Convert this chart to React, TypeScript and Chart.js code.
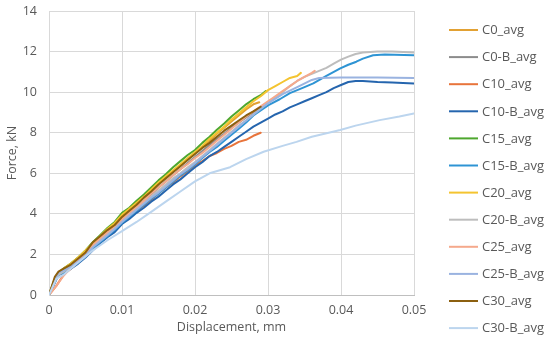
import React, { useEffect, useRef } from "react";
import { Chart, registerables } from "chart.js";

Chart.register(...registerables);

// ---- Data (displacement mm, force kN) ----
const C0_avg: number[][] = [
  [0, 0], [0.0008, 0.8], [0.0013, 1.1], [0.002, 1.3], [0.003, 1.55], [0.004, 1.85], [0.005, 2.15], [0.006, 2.55],
  [0.007, 2.85], [0.008, 3.2], [0.009, 3.5], [0.01, 3.9], [0.011, 4.2], [0.012, 4.5], [0.013, 4.8], [0.014, 5.15],
  [0.015, 5.5], [0.016, 5.8], [0.017, 6.1], [0.018, 6.4], [0.019, 6.7], [0.02, 7.0], [0.021, 7.3], [0.022, 7.6],
  [0.023, 7.95], [0.024, 8.25], [0.025, 8.55], [0.026, 8.85], [0.027, 9.15], [0.028, 9.4], [0.0288, 9.5],
];
const C0_B_avg: number[][] = [
  [0, 0], [0.0008, 0.7], [0.0013, 1.05], [0.002, 1.25], [0.003, 1.5], [0.004, 1.8], [0.005, 2.1], [0.006, 2.45],
  [0.007, 2.8], [0.008, 3.1], [0.009, 3.4], [0.01, 3.75], [0.011, 4.05], [0.012, 4.35], [0.013, 4.65], [0.014, 4.95],
  [0.015, 5.3], [0.016, 5.6], [0.017, 5.9], [0.018, 6.2], [0.019, 6.5], [0.02, 6.8], [0.021, 7.1], [0.022, 7.4],
  [0.023, 7.7], [0.024, 7.95], [0.025, 8.25], [0.026, 8.5], [0.027, 8.75], [0.028, 9.0], [0.0295, 9.3],
];
const C10_avg: number[][] = [
  [0, 0], [0.001, 0.45], [0.002, 1.0], [0.003, 1.3], [0.004, 1.6], [0.005, 1.9], [0.006, 2.3], [0.007, 2.6],
  [0.008, 2.9], [0.009, 3.2], [0.01, 3.55], [0.011, 3.85], [0.012, 4.15], [0.013, 4.4], [0.014, 4.7], [0.015, 5.0],
  [0.016, 5.3], [0.017, 5.55], [0.018, 5.85], [0.019, 6.1], [0.02, 6.4], [0.021, 6.6], [0.022, 6.85], [0.023, 7.0],
  [0.024, 7.2], [0.025, 7.35], [0.026, 7.55], [0.027, 7.65], [0.028, 7.85], [0.029, 8.0],
];
const C10_B_avg: number[][] = [
  [0, 0], [0.0008, 0.6], [0.0013, 1.0], [0.002, 1.05], [0.003, 1.3], [0.004, 1.55], [0.005, 1.85], [0.006, 2.2],
  [0.007, 2.55], [0.008, 2.85], [0.009, 3.1], [0.01, 3.5], [0.011, 3.75], [0.012, 4.05], [0.013, 4.3], [0.014, 4.6],
  [0.015, 4.85], [0.016, 5.15], [0.017, 5.45], [0.018, 5.7], [0.019, 6.0], [0.02, 6.3], [0.021, 6.55], [0.022, 6.85],
  [0.023, 7.05], [0.024, 7.3], [0.025, 7.55], [0.026, 7.8], [0.027, 8.05], [0.028, 8.3], [0.029, 8.5], [0.03, 8.7],
  [0.031, 8.9], [0.032, 9.05], [0.033, 9.25], [0.034, 9.4], [0.035, 9.55], [0.036, 9.7], [0.037, 9.85], [0.038, 10.0],
  [0.039, 10.2], [0.04, 10.35], [0.041, 10.5], [0.042, 10.55], [0.043, 10.55], [0.045, 10.5], [0.047, 10.48], [0.05, 10.43],
];
const C15_avg: number[][] = [
  [0, 0], [0.0007, 0.7], [0.0012, 1.05], [0.002, 1.3], [0.003, 1.55], [0.004, 1.85], [0.005, 2.2], [0.006, 2.6],
  [0.007, 2.95], [0.008, 3.3], [0.009, 3.6], [0.01, 4.05], [0.011, 4.3], [0.012, 4.65], [0.013, 4.95], [0.014, 5.3],
  [0.015, 5.65], [0.016, 5.95], [0.017, 6.3], [0.018, 6.6], [0.019, 6.9], [0.02, 7.15], [0.021, 7.5], [0.022, 7.8],
  [0.023, 8.15], [0.024, 8.45], [0.025, 8.8], [0.026, 9.1], [0.027, 9.4], [0.028, 9.65], [0.029, 9.85], [0.0297, 10.05],
];
const C15_B_avg: number[][] = [
  [0, 0], [0.0008, 0.65], [0.0013, 1.0], [0.002, 1.1], [0.003, 1.35], [0.004, 1.6], [0.005, 1.9], [0.006, 2.3],
  [0.007, 2.6], [0.008, 2.9], [0.009, 3.2], [0.01, 3.55], [0.011, 3.85], [0.012, 4.15], [0.013, 4.45], [0.014, 4.75],
  [0.015, 5.0], [0.016, 5.3], [0.017, 5.6], [0.018, 5.9], [0.019, 6.15], [0.02, 6.45], [0.021, 6.75], [0.022, 7.05],
  [0.023, 7.3], [0.024, 7.6], [0.025, 7.9], [0.026, 8.2], [0.027, 8.5], [0.028, 8.85], [0.029, 9.1], [0.03, 9.35],
  [0.0316, 9.65], [0.033, 9.95], [0.035, 10.25], [0.0362, 10.43], [0.038, 10.8], [0.0399, 11.17], [0.041, 11.35],
  [0.0421, 11.5], [0.043, 11.65], [0.0444, 11.82], [0.046, 11.85], [0.05, 11.82],
];
const C20_avg: number[][] = [
  [0, 0], [0.0008, 0.75], [0.0013, 1.05], [0.002, 1.3], [0.003, 1.55], [0.004, 1.85], [0.005, 2.2], [0.006, 2.55],
  [0.007, 2.9], [0.008, 3.25], [0.009, 3.55], [0.01, 3.95], [0.011, 4.25], [0.012, 4.55], [0.013, 4.85], [0.014, 5.2],
  [0.015, 5.55], [0.016, 5.85], [0.017, 6.15], [0.018, 6.45], [0.019, 6.75], [0.02, 7.05], [0.021, 7.35], [0.022, 7.7],
  [0.023, 8.0], [0.024, 8.3], [0.025, 8.65], [0.026, 8.95], [0.027, 9.25], [0.028, 9.55], [0.029, 9.8], [0.03, 10.1],
  [0.031, 10.3], [0.032, 10.5], [0.033, 10.7], [0.034, 10.8], [0.0345, 10.95],
];
const C20_B_avg: number[][] = [
  [0, 0], [0.0008, 0.7], [0.0013, 1.0], [0.002, 1.15], [0.003, 1.4], [0.004, 1.7], [0.005, 2.0], [0.006, 2.4],
  [0.007, 2.7], [0.008, 3.0], [0.009, 3.3], [0.01, 3.65], [0.011, 3.95], [0.012, 4.25], [0.013, 4.55], [0.014, 4.85],
  [0.015, 5.15], [0.016, 5.45], [0.017, 5.75], [0.018, 6.0], [0.019, 6.3], [0.02, 6.55], [0.021, 6.85], [0.022, 7.15],
  [0.023, 7.45], [0.024, 7.75], [0.025, 8.05], [0.026, 8.35], [0.027, 8.6], [0.028, 8.9], [0.029, 9.2], [0.03, 9.45],
  [0.031, 9.75], [0.032, 10.0], [0.033, 10.3], [0.034, 10.55], [0.035, 10.75], [0.036, 10.9], [0.037, 11.05],
  [0.038, 11.2], [0.039, 11.4], [0.04, 11.6], [0.041, 11.75], [0.042, 11.88], [0.043, 11.95], [0.045, 12.0],
  [0.047, 12.0], [0.05, 11.95],
];
const C25_avg: number[][] = [
  [0, 0], [0.001, 0.45], [0.002, 0.95], [0.003, 1.35], [0.004, 1.7], [0.005, 2.05], [0.006, 2.45], [0.007, 2.8],
  [0.008, 3.1], [0.009, 3.4], [0.01, 3.75], [0.011, 4.05], [0.012, 4.35], [0.013, 4.65], [0.014, 5.0], [0.015, 5.3],
  [0.016, 5.6], [0.017, 5.9], [0.018, 6.2], [0.019, 6.45], [0.02, 6.75], [0.021, 7.0], [0.022, 7.3], [0.023, 7.6],
  [0.024, 7.9], [0.025, 8.2], [0.026, 8.5], [0.027, 8.8], [0.028, 9.05], [0.029, 9.3], [0.03, 9.55], [0.031, 9.8],
  [0.032, 10.05], [0.033, 10.3], [0.034, 10.55], [0.035, 10.75], [0.036, 10.95], [0.0364, 11.05],
];
const C25_B_avg: number[][] = [
  [0, 0], [0.0008, 0.75], [0.0013, 1.1], [0.002, 1.2], [0.003, 1.4], [0.004, 1.65], [0.005, 1.95], [0.006, 2.35],
  [0.007, 2.65], [0.008, 2.95], [0.009, 3.25], [0.01, 3.6], [0.011, 3.9], [0.012, 4.2], [0.013, 4.5], [0.014, 4.8],
  [0.015, 5.05], [0.016, 5.35], [0.017, 5.65], [0.018, 5.95], [0.019, 6.2], [0.02, 6.5], [0.021, 6.8], [0.022, 7.1],
  [0.023, 7.4], [0.024, 7.7], [0.025, 8.0], [0.026, 8.3], [0.027, 8.6], [0.028, 8.9], [0.03, 9.45], [0.032, 9.9],
  [0.034, 10.25], [0.036, 10.6], [0.037, 10.7], [0.04, 10.72], [0.045, 10.72], [0.05, 10.7],
];
const C30_avg: number[][] = [
  [0, 0], [0.0008, 0.9], [0.0013, 1.15], [0.002, 1.3], [0.003, 1.5], [0.004, 1.8], [0.005, 2.1], [0.006, 2.6],
  [0.007, 2.9], [0.008, 3.2], [0.009, 3.45], [0.01, 3.85], [0.011, 4.15], [0.012, 4.45], [0.013, 4.8], [0.014, 5.1],
  [0.015, 5.45], [0.016, 5.75], [0.017, 6.05], [0.018, 6.35], [0.019, 6.65], [0.02, 6.95], [0.021, 7.25], [0.022, 7.5],
  [0.023, 7.8], [0.024, 8.1], [0.025, 8.35], [0.026, 8.6], [0.027, 8.85], [0.028, 9.05], [0.029, 9.28],
];
const C30_B_avg: number[][] = [
  [0, 0], [0.001, 0.8], [0.002, 1.0], [0.004, 1.6], [0.006, 2.2], [0.008, 2.7], [0.01, 3.15], [0.012, 3.6],
  [0.014, 4.1], [0.016, 4.6], [0.018, 5.1], [0.02, 5.6], [0.022, 6.0], [0.0248, 6.3], [0.027, 6.7], [0.0294, 7.06],
  [0.032, 7.35], [0.0339, 7.55], [0.036, 7.8], [0.0399, 8.13], [0.042, 8.35], [0.0453, 8.62], [0.048, 8.8], [0.05, 8.95],
];

const seriesNames = [
  "C0_avg", "C0-B_avg", "C10_avg", "C10-B_avg", "C15_avg", "C15-B_avg",
  "C20_avg", "C20-B_avg", "C25_avg", "C25-B_avg", "C30_avg", "C30-B_avg",
];
const seriesData = [
  C0_avg, C0_B_avg, C10_avg, C10_B_avg, C15_avg, C15_B_avg,
  C20_avg, C20_B_avg, C25_avg, C25_B_avg, C30_avg, C30_B_avg,
];
const seriesColors = [
  "#E2A133", "#8C8C8C", "#E8743B", "#2565AE", "#4EA72E", "#2E94D4",
  "#F4C430", "#BDBDBD", "#F5A98C", "#9AB3E0", "#8C6010", "#BCD5EE",
];

const xTicks = [0, 0.01, 0.02, 0.03, 0.04, 0.05];
const yTicks = [0, 2, 4, 6, 8, 10, 12, 14];

const FONT = '"Open Sans", sans-serif';
const TEXT = "#595959";

const sideLegend = {
  id: "sideLegend",
  afterDraw(chart: any) {
    const ctx = chart.ctx;
    const x0 = chart.chartArea.right + 35;
    ctx.save();
    ctx.font = `13px ${FONT}`;
    ctx.textBaseline = "middle";
    ctx.textAlign = "left";
    seriesNames.forEach((name, i) => {
      const y = 30 + i * 27.1;
      ctx.strokeStyle = seriesColors[i];
      ctx.lineWidth = 2;
      ctx.beginPath();
      ctx.moveTo(x0, y);
      ctx.lineTo(x0 + 29, y);
      ctx.stroke();
      ctx.fillStyle = TEXT;
      ctx.fillText(name, x0 + 33, y + 0.5);
    });
    ctx.restore();
  },
};

export default function App() {
  const ref = useRef<HTMLCanvasElement | null>(null);
  useEffect(() => {
    if (!ref.current) return;
    const chart = new Chart(ref.current, {
      type: "line",
      data: {
        datasets: seriesNames.map((name, i) => ({
          label: name,
          data: seriesData[i].map(([x, y]) => ({ x, y })),
          borderColor: seriesColors[i],
          backgroundColor: seriesColors[i],
          borderWidth: 2,
          pointRadius: 0,
          tension: 0,
          fill: false,
          borderJoinStyle: "round" as const,
          borderCapStyle: "round" as const,
          order: seriesNames.length - i,
        })),
      },
      options: {
        animation: false,
        responsive: false,
        layout: { padding: { top: 11, right: 136, left: 0, bottom: 0 } },
        plugins: { legend: { display: false }, tooltip: { enabled: false } },
        scales: {
          x: {
            type: "linear",
            min: 0,
            max: 0.05,
            afterBuildTicks: (s: any) => { s.ticks = xTicks.map((v) => ({ value: v })); },
            afterFit: (s: any) => {
              s.height = 51;
              s.paddingLeft = 0;
              s.paddingRight = 0;
            },
            ticks: {
              padding: 8,
              color: TEXT,
              font: { family: FONT, size: 12.5 },
              callback: (v: any) => (v === 0 ? "0" : String(+Number(v).toFixed(2))),
              maxRotation: 0,
            },
            grid: { color: "#D9D9D9", drawTicks: false },
            border: { color: "#BFBFBF" },
            title: {
              display: true,
              text: "Displacement, mm",
              color: TEXT,
              font: { family: FONT, size: 12.5 },
              padding: { top: 4, bottom: 11 },
            },
          },
          y: {
            type: "linear",
            min: 0,
            max: 14,
            afterBuildTicks: (s: any) => { s.ticks = yTicks.map((v) => ({ value: v })); },
            afterFit: (s: any) => {
              s.width = 49;
              s.paddingTop = 0;
              s.paddingBottom = 0;
            },
            ticks: { padding: 12, color: TEXT, font: { family: FONT, size: 12.5 } },
            grid: { color: "#D9D9D9", drawTicks: false },
            border: { color: "#D9D9D9" },
            title: {
              display: true,
              text: "Force, kN",
              color: TEXT,
              font: { family: FONT, size: 12.5 },
              padding: { top: 5, bottom: 4 },
            },
          },
        },
      },
      plugins: [sideLegend],
    });
    return () => chart.destroy();
  }, []);
  return (
    <div style={{ position: "absolute", left: 0, top: 0, width: 550, height: 346, background: "#fff" }}>
      <canvas ref={ref} width={550} height={346} />
    </div>
  );
}
